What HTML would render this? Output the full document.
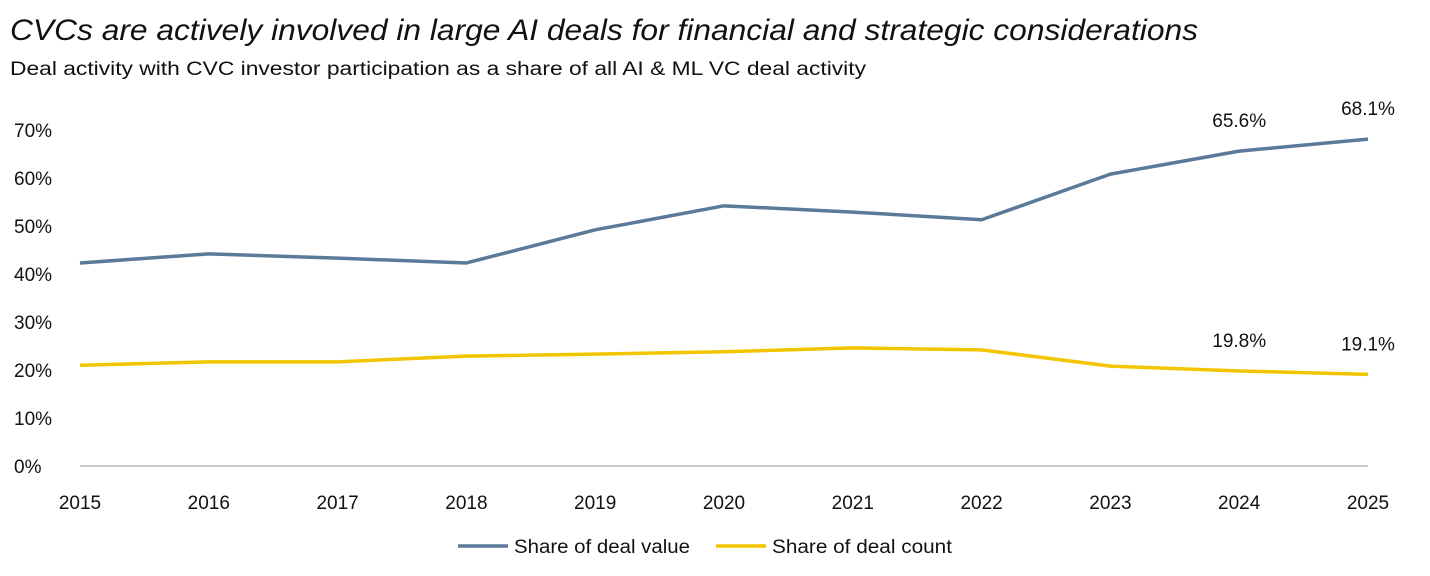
<!DOCTYPE html>
<html><head><meta charset="utf-8">
<style>
body{margin:0;background:#fff;width:1430px;height:571px;overflow:hidden;font-family:"Liberation Sans",sans-serif;}
</style></head>
<body>
<svg width="1430" height="571" xmlns="http://www.w3.org/2000/svg">
<text x="10" y="40" font-size="30" font-style="italic" fill="#111" textLength="1188" lengthAdjust="spacingAndGlyphs">CVCs are actively involved in large AI deals for financial and strategic considerations</text>
<text x="10" y="75" font-size="19" fill="#111" textLength="856" lengthAdjust="spacingAndGlyphs">Deal activity with CVC investor participation as a share of all AI &amp; ML VC deal activity</text>
<g id="yaxis"></g>
<g id="xaxis"></g>
<line x1="80" x2="1368" y1="466" y2="466" stroke="#bbb" stroke-width="1.5"/>
<g id="series"></g>
<g id="legend">
<line x1="458" x2="508" y1="546" y2="546" stroke="#5b7a9a" stroke-width="3.5"/>
<text x="514" y="553" font-size="19" fill="#111" textLength="176" lengthAdjust="spacingAndGlyphs">Share of deal value</text>
<line x1="716" x2="766" y1="546" y2="546" stroke="#f2c500" stroke-width="3.5"/>
<text x="772" y="553" font-size="19" fill="#111" textLength="180" lengthAdjust="spacingAndGlyphs">Share of deal count</text>
</g>
</svg>
<script>
const years=[2015,2016,2017,2018,2019,2020,2021,2022,2023,2024,2025];
const dealValue=[42.3,44.2,43.3,42.3,49.2,54.2,52.9,51.3,60.8,65.6,68.1];
const dealCount=[21.0,21.7,21.7,22.9,23.3,23.8,24.6,24.2,20.8,19.8,19.1];
const yTicks=[0,10,20,30,40,50,60,70];
const labeledIdx=[9,10];
const NS="http://www.w3.org/2000/svg";
const x=i=>80+i*(1368-80)/(years.length-1);
const y=v=>466-v*4.8;
function mk(tag,attrs,parent){const e=document.createElementNS(NS,tag);for(const k in attrs)e.setAttribute(k,attrs[k]);parent.appendChild(e);return e;}
const ya=document.getElementById('yaxis');
yTicks.forEach(t=>{const e=mk('text',{x:14,y:y(t)+7,'font-size':19,fill:'#111'},ya);e.textContent=t+'%';

});
const xa=document.getElementById('xaxis');
years.forEach((yr,i)=>{const e=mk('text',{x:x(i),y:509,'font-size':19,fill:'#111','text-anchor':'middle'},xa);e.textContent=yr;

});
const sg=document.getElementById('series');
function line(vals,color,name){
const p=mk('path',{d:vals.map((v,i)=>(i?'L':'M')+x(i)+' '+y(v)).join(' '),fill:'none',stroke:color,'stroke-width':3.5,'stroke-linejoin':'round'},sg);


labeledIdx.forEach(i=>{const t=mk('text',{x:x(i),y:y(vals[i])-24,'font-size':19,fill:'#111','text-anchor':'middle'},sg);t.textContent=vals[i].toFixed(1)+'%';

});
}
line(dealValue,'#5b7a9a','deal-value-line');
line(dealCount,'#f2c500','deal-count-line');
</script>
</body></html>
